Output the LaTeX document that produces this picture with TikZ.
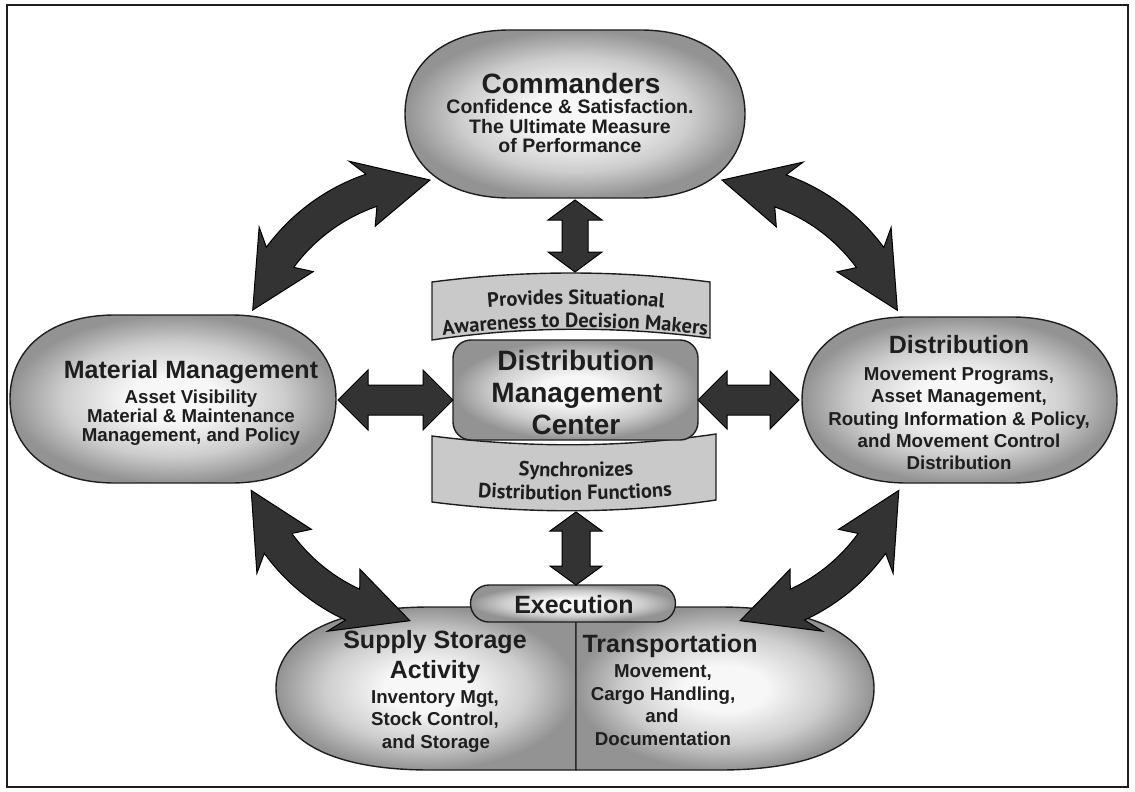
\documentclass[tikz,border=0pt]{standalone}
\usepackage{fontspec}
\setmainfont{Liberation Sans}
\newfontfamily\bannerfont{PT Sans}
\usetikzlibrary{calc,decorations.text}
\definecolor{shA}{HTML}{F7F7F7}
\definecolor{shB}{HTML}{CDCDCD}
\definecolor{shC}{HTML}{939393}
\definecolor{bannergray}{HTML}{C9C9C9}
\definecolor{arrowgray}{HTML}{333333}
\definecolor{inkc}{HTML}{1E1E1E}
\pgfdeclareradialshading{softball}{\pgfpoint{0bp}{0bp}}{color(0bp)=(shA); color(7bp)=(shA); color(17bp)=(shB); color(25bp)=(shC); color(50bp)=(shC)}
\newcommand\bannfont{\bannerfont\bfseries\fontsize{20.5}{22}\selectfont}
\tikzset{
  shp/.style={shade, shading=softball, draw=inkc, line width=1.4pt},
  bannerbox/.style={fill=bannergray, draw=inkc, line width=1.4pt},
  bigarrow/.style={fill=arrowgray, draw=black, line width=1pt, line join=miter},
  ttlA/.style={font=\bfseries\fontsize{28}{30}\selectfont},
  ttlB/.style={font=\bfseries\fontsize{25}{27}\selectfont},
  subA/.style={font=\bfseries\fontsize{19.5}{21}\selectfont},
  subB/.style={font=\bfseries\fontsize{18.7}{20}\selectfont},
  banntext/.style={decorate, decoration={text along path, text align=center, text color=inkc,
     text={|\bannfont|#1}}},
}
% stadium path with squircle ends: options, x1,y1,x2,y2,end width
\newcommand\stadium[6]{%
  \pgfmathsetmacro\Sxa{#2}\pgfmathsetmacro\Sya{#3}%
  \pgfmathsetmacro\Sxb{#4}\pgfmathsetmacro\Syb{#5}%
  \pgfmathsetmacro\Sc{(#3+#5)/2}\pgfmathsetmacro\Sh{(#5-#3)/2}%
  \pgfmathsetmacro\Sl{#2+#6}\pgfmathsetmacro\Sr{#4-#6}%
  \pgfmathsetmacro\Sva{\Sc-0.6*\Sh}\pgfmathsetmacro\Svb{\Sc+0.6*\Sh}%
  \pgfmathsetmacro\Sua{\Sl-0.62*#6}\pgfmathsetmacro\Sub{\Sr+0.62*#6}%
  \path[#1] (\Sxa,\Sc) .. controls (\Sxa,\Sva) and (\Sua,\Sya) .. (\Sl,\Sya) -- (\Sr,\Sya)
    .. controls (\Sub,\Sya) and (\Sxb,\Sva) .. (\Sxb,\Sc)
    .. controls (\Sxb,\Svb) and (\Sub,\Syb) .. (\Sr,\Syb) -- (\Sl,\Syb)
    .. controls (\Sua,\Syb) and (\Sxa,\Svb) .. (\Sxa,\Sc) -- cycle;}
% straight double arrow between two named coordinates
\newcommand\dblarrow[5]{%
  \coordinate (hA) at ($(#1)!#3!(#2)$);
  \coordinate (hB) at ($(#2)!#3!(#1)$);
  \draw[bigarrow] (#1) -- ($(hA)!#4!90:(#2)$) -- ($(hA)!#5!90:(#2)$) -- ($(hB)!#5!-90:(#1)$)
    -- ($(hB)!#4!-90:(#1)$) -- (#2) -- ($(hB)!#4!90:(#1)$) -- ($(hB)!#5!90:(#1)$)
    -- ($(hA)!#5!-90:(#2)$) -- ($(hA)!#4!-90:(#2)$) -- cycle;}
% curved double arrow: name, cx, cy, angle 1, angle 2
\def\CAR{190}\def\CAW{17}\def\CAH{35}\def\CAD{18}\def\CAS{3}
\newcommand\curvedarrow[5]{%
  \coordinate (#1c) at (#2,#3);
  \pgfmathsetmacro\CAsg{sign(#5-#4)}%
  \pgfmathsetmacro\CAb{#4+\CAsg*\CAD}\pgfmathsetmacro\CAbb{#4+\CAsg*(\CAD+\CAS)}%
  \pgfmathsetmacro\CAc{#5-\CAsg*\CAD}\pgfmathsetmacro\CAcb{#5-\CAsg*(\CAD+\CAS)}%
  \coordinate (#1a) at ($(#1c)+(#4:\CAR)$);
  \coordinate (#1b) at ($(#1c)+(#5:\CAR)$);
  \draw[bigarrow] (#1a) -- ($(#1c)+(\CAbb:\CAR+\CAH)$) -- ($(#1c)+(\CAb:\CAR+\CAW)$)
    -- plot[domain=\CAb:\CAc, samples=40] ({#2+(\CAR+\CAW)*cos(\x)},{#3+(\CAR+\CAW)*sin(\x)})
    -- ($(#1c)+(\CAcb:\CAR+\CAH)$) -- (#1b) -- ($(#1c)+(\CAcb:\CAR-\CAH)$)
    -- ($(#1c)+(\CAc:\CAR-\CAW)$)
    -- plot[domain=\CAc:\CAb, samples=40] ({#2+(\CAR-\CAW)*cos(\x)},{#3+(\CAR-\CAW)*sin(\x)})
    -- ($(#1c)+(\CAbb:\CAR-\CAH)$) -- cycle;}
\newcommand\txt[5]{\node[#1, anchor=base, inner sep=0pt, text=inkc] (#2) at (#3,#4) {#5};}
\begin{document}
\begin{tikzpicture}[x=1pt,y=-1pt]
\useasboundingbox (0,0) rectangle (1135,792);
\draw[line width=2.6pt, inkc] (7,5) rectangle (1128,787);
% main shapes
\stadium{shp}{405}{30}{745}{198}{105}
\stadium{shp}{10}{315}{336}{483}{105}
\stadium{shp}{802}{317}{1117}{483}{105}
% bottom shape halves
\path[shp] (576,607) -- (430,607) .. controls (330,607) and (276,640) .. (276,688)
  .. controls (276,740) and (330,770) .. (430,770) -- (576,770) -- cycle;
\path[shp] (576,607) -- (720,607) .. controls (820,607) and (874,640) .. (874,688)
  .. controls (874,740) and (820,770) .. (720,770) -- (576,770) -- cycle;
% execution pill
\path[shp] (489,585) -- (657,585) arc[start angle=-90, end angle=90, radius=18.5]
  -- (489,622) arc[start angle=90, end angle=270, radius=18.5] -- cycle;
% banners
\path[bannerbox] (432,282) .. controls (525,270) and (617,270) .. (710,282) -- (710,338)
  .. controls (617,326) and (525,326) .. (432,340) -- cycle;
\path[bannerbox] (432,436) .. controls (527,448) and (621,448) .. (716,434) -- (716,500)
  .. controls (621,514) and (527,514) .. (432,502) -- cycle;
% distribution management center
\path[shp, rounded corners=18pt] (453,340) rectangle (698,440);
% straight arrows
\coordinate (vtA) at (575,200); \coordinate (vtB) at (575,272);
\dblarrow{vtA}{vtB}{20pt}{27pt}{13pt}
\coordinate (vbA) at (576,512); \coordinate (vbB) at (576,585);
\dblarrow{vbA}{vbB}{19pt}{26pt}{14pt}
\coordinate (hlA) at (338,400); \coordinate (hlB) at (453,400);
\dblarrow{hlA}{hlB}{30pt}{30pt}{15pt}
\coordinate (hrA) at (698,400); \coordinate (hrB) at (799,400);
\dblarrow{hrA}{hrB}{29pt}{29pt}{15pt}
% curved arrows
\curvedarrow{tl}{433}{370}{198.4}{269.1}
\curvedarrow{tr}{717}{370}{-88.5}{-18.3}
\curvedarrow{bl}{432}{432}{162.1}{96.7}
\curvedarrow{br}{718}{432}{17.9}{83.3}
% texts
\txt{ttlA}{cmdT}{571}{93}{Commanders}
\txt{subA}{cmd1}{570}{113}{Confidence \& Satisfaction.}
\txt{subA}{cmd2}{570}{133}{The Ultimate Measure}
\txt{subA}{cmd3}{570}{152}{of Performance}
\txt{ttlB}{mmT}{191}{378}{Material Management}
\txt{subB}{mm1}{191}{403}{Asset Visibility}
\txt{subB}{mm2}{191}{422}{Material \& Maintenance}
\txt{subB}{mm3}{191}{441}{Management, and Policy}
\txt{ttlB}{diT}{959}{353}{Distribution}
\txt{subB}{di1}{959}{380}{Movement Programs,}
\txt{subB}{di2}{959}{402}{Asset Management,}
\txt{subB}{di3}{959}{425}{Routing Information \& Policy,}
\txt{subB}{di4}{959}{447}{and Movement Control}
\txt{subB}{di5}{959}{469}{Distribution}
\txt{ttlA}{dm1}{576}{370}{Distribution}
\txt{ttlA}{dm2}{577}{402}{Management}
\txt{ttlA}{dm3}{576}{434}{Center}
\path[banntext={Provides Situational}] (466,310) .. controls (530,302) and (620,302) .. (686,310);
\path[banntext={Awareness to Decision Makers}] (422,338) .. controls (520,324) and (630,324) .. (728,338);
\path[banntext={Synchronizes}] (476,471) .. controls (540,479) and (610,479) .. (676,471);
\path[banntext={Distribution Functions}] (422,492) .. controls (520,503) and (630,503) .. (728,490);
\txt{ttlB}{exT}{574}{613}{Execution}
\txt{ttlB}{ssT1}{435}{648}{Supply Storage}
\txt{ttlB}{ssT2}{435}{678}{Activity}
\txt{subB}{ss1}{435}{703}{Inventory Mgt,}
\txt{subB}{ss2}{435}{725}{Stock Control,}
\txt{subB}{ss3}{436}{748}{and Storage}
\txt{ttlB}{trT}{670}{652}{Transportation}
\txt{subB}{tr1}{663}{677}{Movement,}
\txt{subB}{tr2}{663}{700}{Cargo Handling,}
\txt{subB}{tr3}{662}{722}{and}
\txt{subB}{tr4}{663}{745}{Documentation}
\end{tikzpicture}
\end{document}
